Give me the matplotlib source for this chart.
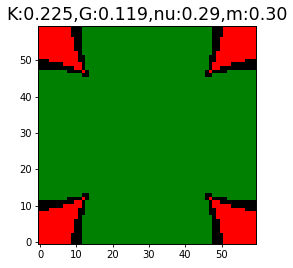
import numpy as np
import matplotlib
matplotlib.use("Agg")
import matplotlib.pyplot as plt
from matplotlib.colors import ListedColormap

title = "K:0.225,G:0.119,nu:0.29,m:0.30"

# bottom-left corner pattern (row 0 = bottom), G=green, B=black, R=red
corner_rows = [
    "RRRRRRRRRBBBGG",
    "RRRRRRRRRBBBGG",
    "RRRRRRRRRBBBGG",
    "RRRRRRRRRRBBGG",
    "RRRRRRRRRRBBGG",
    "RRRRRRRRRRBBGG",
    "RRRRRRRRRRBBGG",
    "RRRRRRRRRRRBGG",
    "RRRRRRRRRRRBBG",
    "BBBRRRRRRRRBBG",
    "BBBBBBBRRRRRBG",
    "BBBBBBBBBBRRBG",
    "GGGGGGGGBBBBRB",
    "GGGGGGGGGGGGBB",
]
grid_size = 60
codes = {"G": 0, "B": 1, "R": 2}
colors = ["green", "black", "red"]

grid = np.zeros((grid_size, grid_size), dtype=int)
for r, row in enumerate(corner_rows):
    vals = [codes[ch] for ch in row]
    for c, v in enumerate(vals):
        grid[r, c] = v
        grid[r, grid_size - 1 - c] = v
        grid[grid_size - 1 - r, c] = v
        grid[grid_size - 1 - r, grid_size - 1 - c] = v

fig = plt.figure(figsize=(2.93, 2.68), dpi=100)
ax = fig.add_axes([0.1307, 0.0907, 0.7430, 0.8123])
ax.imshow(grid, cmap=ListedColormap(colors), vmin=0, vmax=2,
          origin="lower", interpolation="nearest", aspect="auto")
ax.set_xticks([0, 10, 20, 30, 40, 50])
ax.set_yticks([0, 10, 20, 30, 40, 50])
ax.tick_params(labelsize=7.2, length=2.5, width=0.6, pad=2)
for s in ax.spines.values():
    s.set_linewidth(0.7)
ax.set_title(title, fontsize=12.6, pad=4)
fig.savefig("out.png", dpi=100)
